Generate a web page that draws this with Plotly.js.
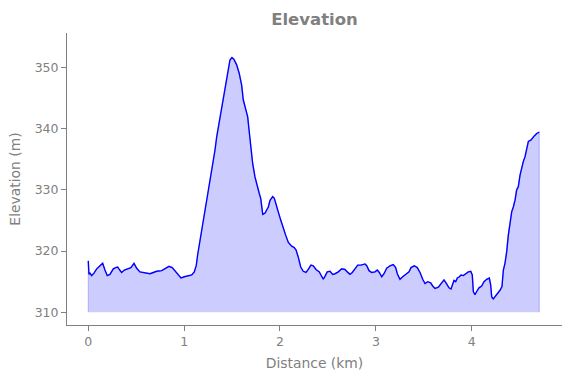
<!DOCTYPE html>
<html>
<head>
<meta charset="utf-8">
<script src="https://cdn.plot.ly/plotly-3.0.1.min.js"></script>
<style>html,body{margin:0;padding:0;background:#fff;}#chart{width:571px;height:378px;}</style>
</head>
<body>
<div id="chart"></div>
<script>
// Distance along the route (km)
const distanceKm = [
  0, 0.007, 0.018, 0.035, 0.059, 0.088, 0.122, 0.150, 0.174, 0.198,
  0.226, 0.261, 0.286, 0.307, 0.328, 0.348, 0.376, 0.411, 0.445, 0.477,
  0.505, 0.539, 0.574, 0.609, 0.644, 0.678, 0.714, 0.766, 0.800, 0.842,
  0.876, 0.912, 0.939, 0.967, 1.002, 1.043, 1.079, 1.106, 1.127, 1.141,
  1.155, 1.173, 1.200, 1.218, 1.242, 1.262, 1.277, 1.304, 1.322, 1.340,
  1.364, 1.384, 1.402, 1.419, 1.437, 1.458, 1.478, 1.499, 1.520, 1.548,
  1.575, 1.600, 1.617, 1.645, 1.663, 1.677, 1.694, 1.715, 1.739, 1.757,
  1.784, 1.799, 1.820, 1.844, 1.861, 1.878, 1.896, 1.924, 1.941, 1.958,
  1.982, 2.007, 2.034, 2.059, 2.087, 2.122, 2.146, 2.167, 2.191, 2.216,
  2.243, 2.271, 2.295, 2.323, 2.347, 2.376, 2.410, 2.435, 2.452, 2.470,
  2.493, 2.522, 2.550, 2.574, 2.608, 2.644, 2.678, 2.702, 2.730, 2.754,
  2.783, 2.811, 2.845, 2.887, 2.905, 2.929, 2.957, 2.991, 3.015, 3.036,
  3.061, 3.085, 3.113, 3.148, 3.182, 3.207, 3.224, 3.252, 3.280, 3.315,
  3.346, 3.367, 3.401, 3.432, 3.461, 3.489, 3.513, 3.541, 3.572, 3.593,
  3.617, 3.652, 3.687, 3.711, 3.732, 3.763, 3.784, 3.802, 3.815, 3.833,
  3.850, 3.871, 3.888, 3.912, 3.941, 3.965, 3.990, 4.006, 4.017, 4.034,
  4.052, 4.076, 4.104, 4.128, 4.156, 4.184, 4.198, 4.209, 4.225, 4.250,
  4.271, 4.295, 4.316, 4.330, 4.347, 4.365, 4.382, 4.400, 4.417, 4.434,
  4.452, 4.469, 4.486, 4.504, 4.522, 4.538, 4.556, 4.574, 4.591, 4.616,
  4.636, 4.653, 4.678, 4.705
];
// Elevation (m)
const elevationM = [
  318.4, 316.2, 316.4, 316.0, 316.4, 317.1, 317.6, 318.0, 316.9, 316.0,
  316.2, 317.1, 317.3, 317.4, 316.9, 316.5, 316.9, 317.1, 317.3, 318.0,
  317.2, 316.6, 316.5, 316.5, 316.3, 316.5, 316.7, 316.8, 317.1, 317.5,
  317.3, 316.6, 316.1, 315.6, 315.8, 315.9, 316.1, 316.6, 317.7, 319.4,
  320.7, 322.3, 325.1, 327.2, 328.9, 331.3, 332.7, 334.6, 336.5, 338.7,
  340.9, 342.8, 344.7, 346.3, 347.6, 349.8, 351.2, 351.6, 351.3, 350.4,
  349.0, 347.1, 344.7, 343.0, 341.9, 339.8, 337.0, 334.3, 332.1, 330.8,
  329.4, 328.6, 326.0, 326.2, 326.7, 327.2, 328.3, 328.9, 328.6, 327.5,
  326.4, 325.1, 323.7, 322.6, 321.4, 320.8, 320.6, 320.2, 319.0, 317.4,
  316.7, 316.5, 317.0, 317.7, 317.6, 317.0, 316.6, 316.0, 315.4, 315.9,
  316.6, 316.7, 316.2, 316.3, 316.6, 317.1, 317.0, 316.6, 316.2, 316.5,
  317.2, 317.7, 317.7, 317.9, 317.6, 316.8, 316.5, 316.6, 316.9, 316.5,
  315.8, 316.3, 317.2, 317.6, 317.8, 317.3, 316.3, 315.4, 315.8, 316.2,
  316.6, 317.3, 317.6, 317.3, 316.5, 315.4, 314.7, 315.0, 314.8, 314.3,
  313.9, 314.1, 314.9, 315.3, 314.8, 314.0, 313.8, 314.7, 315.2, 315.0,
  315.6, 315.8, 316.1, 316.0, 316.4, 316.6, 316.7, 316.1, 313.4, 312.9,
  313.4, 314.0, 314.3, 315.0, 315.4, 315.6, 314.5, 312.5, 312.2, 312.7,
  313.1, 313.6, 314.2, 316.9, 318.0, 319.9, 322.6, 324.8, 326.4, 327.2,
  328.3, 330.0, 330.5, 332.4, 333.8, 334.6, 335.4, 336.5, 337.9, 338.1,
  338.4, 338.8, 339.2, 339.4
];
const baseElevation = 310;

const n = distanceKm.length;
const polyX = [distanceKm[0]].concat(distanceKm, [distanceKm[n - 1]]);
const polyY = [baseElevation].concat(elevationM, [baseElevation]);

const gray = '#808080';
const fontFam = '"DejaVu Sans", "Liberation Sans", sans-serif';

const traces = [
  {
    x: polyX, y: polyY, type: 'scatter', mode: 'lines',
    fill: 'toself', fillcolor: 'rgba(0,0,255,0.2)',
    line: {color: 'rgba(0,0,255,0.2)', width: 1.2},
    hoverinfo: 'skip', showlegend: false
  },
  {
    x: distanceKm, y: elevationM, type: 'scatter', mode: 'lines',
    line: {color: '#0000ff', width: 1.4},
    showlegend: false
  }
];

const axisCommon = {
  showline: true, linecolor: gray, linewidth: 1,
  ticks: 'outside', ticklen: 5, tickwidth: 1, tickcolor: gray,
  showgrid: false, zeroline: false,
  tickfont: {family: fontFam, size: 12.5, color: gray}
};

const layout = {
  width: 571, height: 378,
  margin: {l: 67, r: 9, t: 33, b: 53, pad: 0},
  paper_bgcolor: '#ffffff', plot_bgcolor: '#ffffff',
  font: {family: fontFam, color: gray},
  title: {
    text: 'Elevation',
    font: {family: fontFam, size: 16.5, color: gray, weight: 'bold'},
    x: 0.5, xref: 'paper', xanchor: 'center',
    y: 1 - 19 / 378, yref: 'container', yanchor: 'middle'
  },
  xaxis: Object.assign({}, axisCommon, {
    range: [-0.222, 4.942],
    tickvals: [0, 1, 2, 3, 4],
    title: {text: 'Distance (km)', font: {family: fontFam, size: 13.9, color: gray}, standoff: 10}
  }),
  yaxis: Object.assign({}, axisCommon, {
    range: [307.93, 355.6],
    tickvals: [310, 320, 330, 340, 350],
    title: {text: 'Elevation (m)', font: {family: fontFam, size: 13.9, color: gray}, standoff: 10}
  })
};

Plotly.newPlot('chart', traces, layout, {staticPlot: true, displayModeBar: false});
</script>
</body>
</html>
